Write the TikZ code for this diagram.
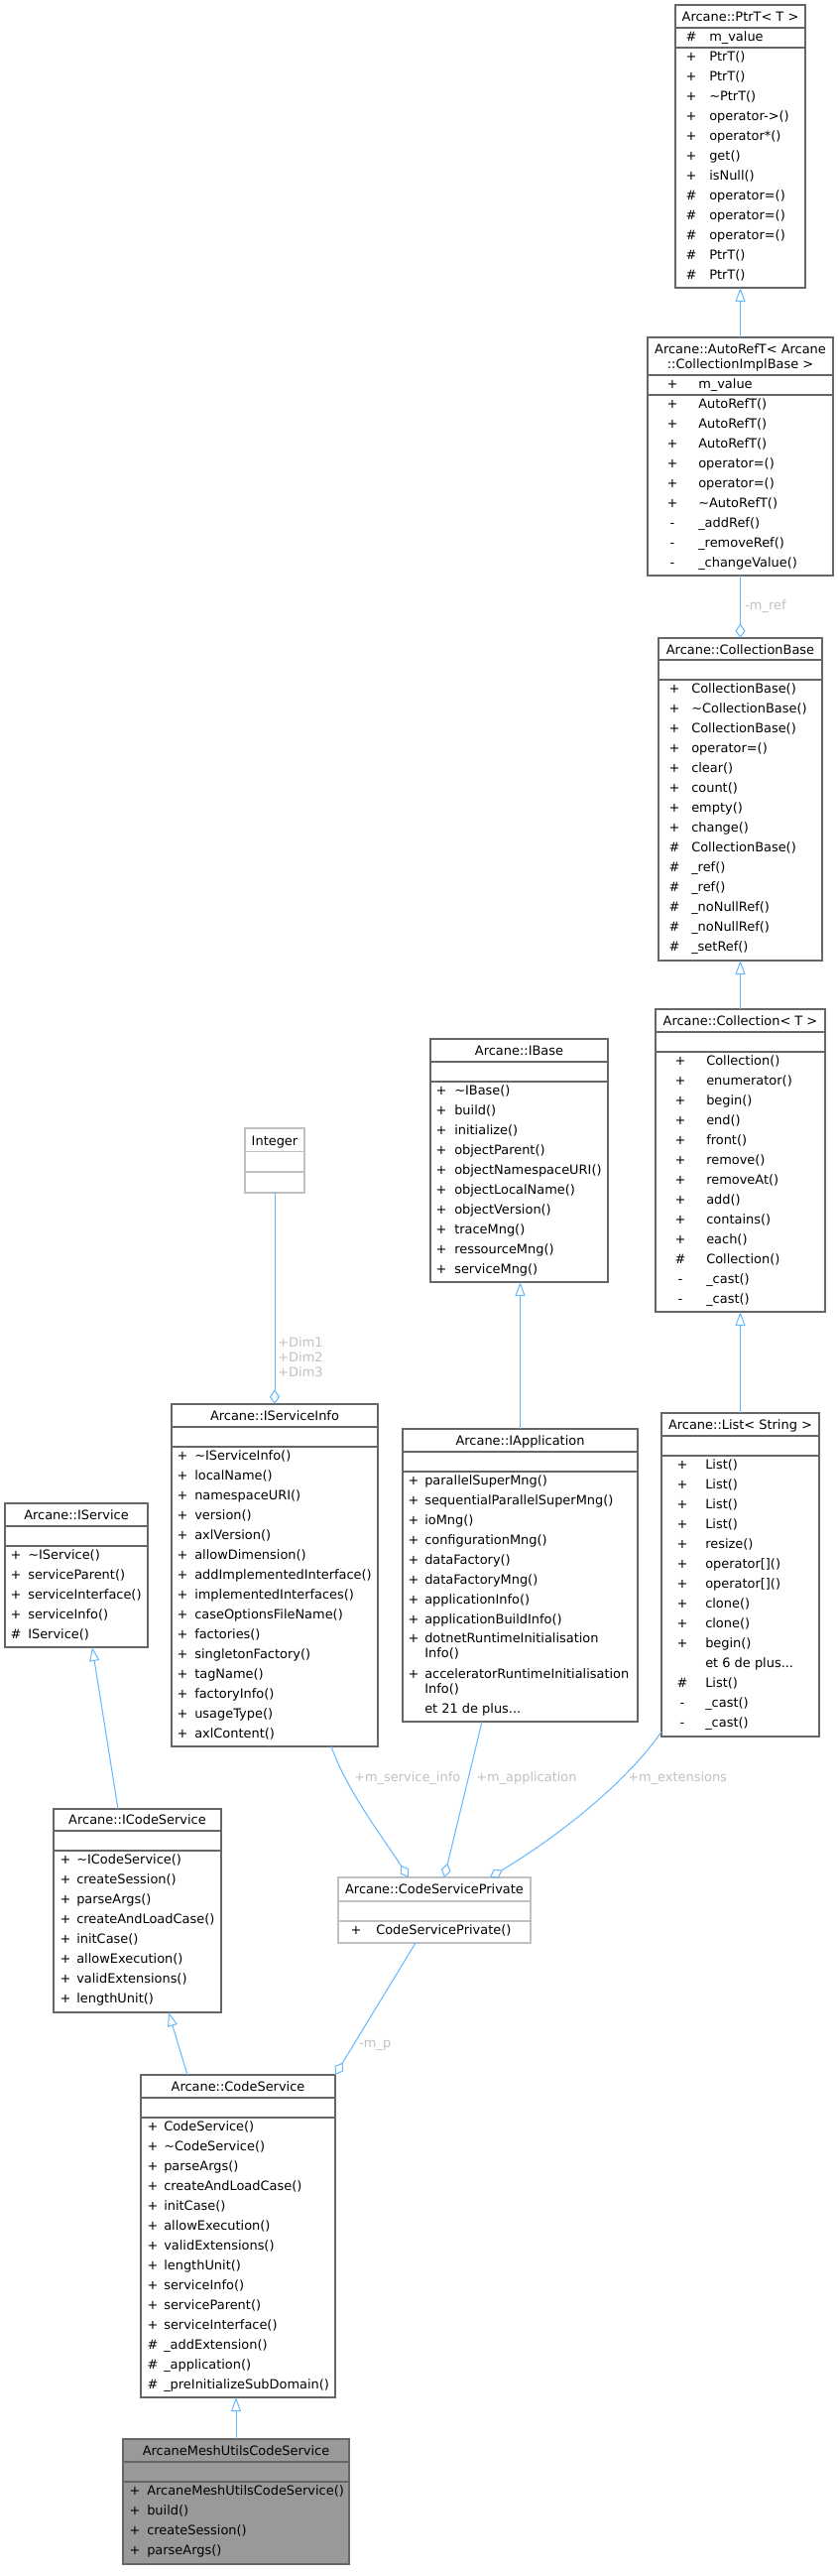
\documentclass[tikz,border=0pt]{standalone}
\usepackage{fontspec}
\setmainfont{DejaVu Sans}
\usetikzlibrary{arrows.meta,fit,calc}
\definecolor{edgeblue}{HTML}{63B8FF}
\definecolor{boxgray}{HTML}{666666}
\definecolor{lightbox}{HTML}{BFBFBF}
\definecolor{lblgray}{HTML}{C0C0C0}
\definecolor{hifill}{HTML}{999999}
\newcommand\tildech{\textasciitilde}
\tikzset{
 cls/.style={draw=boxgray, line width=0.9pt, inner sep=0pt, outer sep=0pt},
 clslight/.style={cls, draw=lightbox},
 sepl/.style={draw=boxgray, line width=0.9pt},
 sepll/.style={draw=lightbox, line width=0.9pt},
 txt/.style={inner sep=0pt, font=\fontsize{9.7}{11}\selectfont},
 ttl/.style={txt, anchor=base},
 lbl/.style={txt, text=lblgray, anchor=base west},
 edge/.style={draw=edgeblue, line width=0.75pt},
 inh/.style={-{Triangle[open, length=10.5pt, width=7.5pt]}},
 agg/.style={-{Diamond[open, length=11pt, width=7.5pt]}},
}
% #1 prefix, #2 symbol x (centre), #3 name x, #4 first baseline, #5 list sym/name
\newcommand\members[5]{%
  \foreach \sy/\nm [count=\k from 0] in {#5} {
    \node[txt, anchor=base] (#1s\k) at (#2, {#4+20*\k}) {\sy};
    \node[txt, anchor=base west] (#1n\k) at (#3, {#4+20*\k}) {\nm};
  }}
\begin{document}
\begin{tikzpicture}[x=0.75pt, y=-0.75pt]
\useasboundingbox (0,0) rectangle (845,2596);
\fill[white] (0,0) rectangle (845,2596);

% ---------- Arcane::PtrT< T >
\node[cls, fit={(681,5)(812,290)}] (ptr) {};
\draw[sepl] (681,28) -- (812,28);
\draw[sepl] (681,48) -- (812,48);
\node[ttl] (ptrt) at (746.5,21) {Arcane::PtrT< T >};
\members{ptra}{697}{715}{41}{\#/m\_value}
\members{ptrm}{697}{715}{61}{+/PtrT(), +/PtrT(), +/\tildech PtrT(), +/operator->(), +/operator*(), +/get(), +/isNull(), \#/operator=(), \#/operator=(), \#/operator=(), \#/PtrT(), \#/PtrT()}

% ---------- Arcane::AutoRefT
\node[cls, fit={(653,340)(840,580)}] (auto) {};
\draw[sepl] (653,378) -- (840,378);
\draw[sepl] (653,398) -- (840,398);
\node[ttl] (autot1) at (746.5,356) {Arcane::AutoRefT< Arcane};
\node[ttl] (autot2) at (746.5,371) {::CollectionImplBase >};
\members{autoa}{678}{704}{391}{+/m\_value}
\members{autom}{678}{704}{411}{+/AutoRefT(), +/AutoRefT(), +/AutoRefT(), +/operator=(), +/operator=(), +/\tildech AutoRefT(), -/\_addRef(), -/\_removeRef(), -/\_changeValue()}

% ---------- Arcane::CollectionBase
\node[cls, fit={(664,643)(829,968)}] (cbase) {};
\draw[sepl] (664,665) -- (829,665);
\draw[sepl] (664,685) -- (829,685);
\node[ttl] (cbaset) at (746.5,659) {Arcane::CollectionBase};
\members{cbasem}{680}{697}{698}{+/CollectionBase(), +/\tildech CollectionBase(), +/CollectionBase(), +/operator=(), +/clear(), +/count(), +/empty(), +/change(), \#/CollectionBase(), \#/\_ref(), \#/\_ref(), \#/\_noNullRef(), \#/\_noNullRef(), \#/\_setRef()}

% ---------- Arcane::Collection< T >
\node[cls, fit={(661,1017)(832,1322)}] (coll) {};
\draw[sepl] (661,1040) -- (832,1040);
\draw[sepl] (661,1060) -- (832,1060);
\node[ttl] (collt) at (746.5,1033) {Arcane::Collection< T >};
\members{collm}{686}{712}{1073}{+/Collection(), +/enumerator(), +/begin(), +/end(), +/front(), +/remove(), +/removeAt(), +/add(), +/contains(), +/each(), \#/Collection(), -/\_cast(), -/\_cast()}

% ---------- Arcane::List< String >
\node[cls, fit={(667,1424)(826,1750)}] (list) {};
\draw[sepl] (667,1447) -- (826,1447);
\draw[sepl] (667,1467) -- (826,1467);
\node[ttl] (listt) at (746.5,1440) {Arcane::List< String >};
\members{listm}{688}{711}{1480}{+/List(), +/List(), +/List(), +/List(), +/resize(), +/operator[](), +/operator[](), +/clone(), +/clone(), +/begin()}
\node[txt, anchor=base west] (listmore) at (711,1680) {et 6 de plus...};
\members{listp}{688}{711}{1700}{\#/List(), -/\_cast(), -/\_cast()}

% ---------- Arcane::IBase
\node[cls, fit={(434,1047)(613,1292)}] (ibase) {};
\draw[sepl] (434,1070) -- (613,1070);
\draw[sepl] (434,1090) -- (613,1090);
\node[ttl] (ibaset) at (523.5,1063) {Arcane::IBase};
\members{ibasem}{445}{458}{1103}{+/\tildech IBase(), +/build(), +/initialize(), +/objectParent(), +/objectNamespaceURI(), +/objectLocalName(), +/objectVersion(), +/traceMng(), +/ressourceMng(), +/serviceMng()}

% ---------- Arcane::IApplication
\node[cls, fit={(406,1440)(643,1735)}] (iapp) {};
\draw[sepl] (406,1463) -- (643,1463);
\draw[sepl] (406,1483) -- (643,1483);
\node[ttl] (iappt) at (524.5,1456) {Arcane::IApplication};
\members{iappm}{417}{428}{1496}{+/parallelSuperMng(), +/sequentialParallelSuperMng(), +/ioMng(), +/configurationMng(), +/dataFactory(), +/dataFactoryMng(), +/applicationInfo(), +/applicationBuildInfo()}
\node[txt, anchor=base] (iappds) at (417,1655) {+};
\node[txt, anchor=base west] (iappd1) at (428,1655) {dotnetRuntimeInitialisation};
\node[txt, anchor=base west] (iappd2) at (428,1670) {Info()};
\node[txt, anchor=base] (iappas) at (417,1691) {+};
\node[txt, anchor=base west] (iappa1) at (428,1691) {acceleratorRuntimeInitialisation};
\node[txt, anchor=base west] (iappa2) at (428,1706) {Info()};
\node[txt, anchor=base west] (iappmore) at (428,1726) {et 21 de plus...};

% ---------- Integer
\node[clslight, fit={(247,1137)(307,1202)}] (integer) {};
\draw[sepll] (247,1160.5) -- (307,1160.5);
\draw[sepll] (247,1181) -- (307,1181);
\node[ttl] (integert) at (277,1154.5) {Integer};

% ---------- Arcane::IServiceInfo
\node[cls, fit={(173,1415)(381,1760)}] (isi) {};
\draw[sepl] (173,1438) -- (381,1438);
\draw[sepl] (173,1458) -- (381,1458);
\node[ttl] (isit) at (277,1431) {Arcane::IServiceInfo};
\members{isim}{184}{196}{1471}{+/\tildech IServiceInfo(), +/localName(), +/namespaceURI(), +/version(), +/axlVersion(), +/allowDimension(), +/addImplementedInterface(), +/implementedInterfaces(), +/caseOptionsFileName(), +/factories(), +/singletonFactory(), +/tagName(), +/factoryInfo(), +/usageType(), +/axlContent()}

% ---------- Arcane::IService
\node[cls, fit={(5,1515)(149,1660)}] (iserv) {};
\draw[sepl] (5,1538) -- (149,1538);
\draw[sepl] (5,1558) -- (149,1558);
\node[ttl] (iservt) at (77,1531) {Arcane::IService};
\members{iservm}{16}{28}{1571}{+/\tildech IService(), +/serviceParent(), +/serviceInterface(), +/serviceInfo(), \#/IService()}

% ---------- Arcane::ICodeService
\node[cls, fit={(54,1823)(223,2028)}] (icode) {};
\draw[sepl] (54,1845) -- (223,1845);
\draw[sepl] (54,1865) -- (223,1865);
\node[ttl] (icodet) at (138.5,1838.5) {Arcane::ICodeService};
\members{icodem}{66}{77}{1878}{+/\tildech ICodeService(), +/createSession(), +/parseArgs(), +/createAndLoadCase(), +/initCase(), +/allowExecution(), +/validExtensions(), +/lengthUnit()}

% ---------- Arcane::CodeServicePrivate
\node[clslight, fit={(341,1892)(535,1958)}] (csp) {};
\draw[sepll] (341,1916) -- (535,1916);
\draw[sepll] (341,1936) -- (535,1936);
\node[ttl] (cspt) at (438,1908.5) {Arcane::CodeServicePrivate};
\members{cspm}{359}{379}{1949}{+/CodeServicePrivate()}

% ---------- Arcane::CodeService
\node[cls, fit={(142,2091)(338,2416)}] (cs) {};
\draw[sepl] (142,2114) -- (338,2114);
\draw[sepl] (142,2134) -- (338,2134);
\node[ttl] (cst) at (240,2107) {Arcane::CodeService};
\members{csm}{154}{165}{2147}{+/CodeService(), +/\tildech CodeService(), +/parseArgs(), +/createAndLoadCase(), +/initCase(), +/allowExecution(), +/validExtensions(), +/lengthUnit(), +/serviceInfo(), +/serviceParent(), +/serviceInterface(), \#/\_addExtension(), \#/\_application(), \#/\_preInitializeSubDomain()}

% ---------- ArcaneMeshUtilsCodeService
\node[cls, fill=hifill, fit={(124,2458)(352,2584)}] (amu) {};
\draw[sepl] (124,2481) -- (352,2481);
\draw[sepl] (124,2501) -- (352,2501);
\node[ttl] (amut) at (238,2474) {ArcaneMeshUtilsCodeService};
\members{amum}{136}{148}{2514}{+/ArcaneMeshUtilsCodeService(), +/build(), +/createSession(), +/parseArgs()}

% ---------- connectors
\draw[edge, inh] (auto.north) -- (ptr.south);
\draw[edge, agg] (auto.south) -- (cbase.north);
\node[lbl] (lref) at (751,614) {-m\_ref};
\draw[edge, inh] (coll.north) -- (cbase.south);
\draw[edge, inh] (list.north) -- (coll.south);
\draw[edge, inh] (iapp.north) -- (iapp.north |- ibase.south);
\draw[edge, agg] (integer.south) -- (isi.north);
\node[txt, text=lblgray, anchor=base] (ld1) at (303,1357) {+Dim1};
\node[txt, text=lblgray, anchor=base] (ld2) at (303,1372) {+Dim2};
\node[txt, text=lblgray, anchor=base] (ld3) at (303,1387) {+Dim3};
\draw[edge, inh] ($(icode.north west)+(65,0)$) -- ($(iserv.south west)+(88,0)$);
\draw[edge, inh] ($(cs.north west)+(47,0)$) -- ($(icode.south west)+(116,0)$);
\draw[edge, inh] (amu.north) -- (amu.north |- cs.south);
\draw[edge, agg] ($(csp.south west)+(78,0)$) -- (cs.north east);
\node[lbl] (lmp) at (362,2063) {-m\_p};
\draw[edge, agg] ($(isi.south west)+(161,0)$) .. controls ($(isi.south west)+(177,45)$) and ($(csp.north west)+(44,-42)$) .. ($(csp.north west)+(71,0)$);
\draw[edge, agg] ($(iapp.south west)+(80,0)$) -- ($(csp.north west)+(107,0)$);
\draw[edge, agg] ($(list.south west)+(0,-5)$) .. controls ($(list.south west)+(-27,35)$) and ($(csp.north west)+(239,-52)$) .. ($(csp.north west)+(153,0)$);
\node[lbl] (lsi) at (357,1795) {+m\_service\_info};
\node[lbl] (lapp) at (480,1795) {+m\_application};
\node[lbl] (lext) at (633,1795) {+m\_extensions};
\end{tikzpicture}
\end{document}
